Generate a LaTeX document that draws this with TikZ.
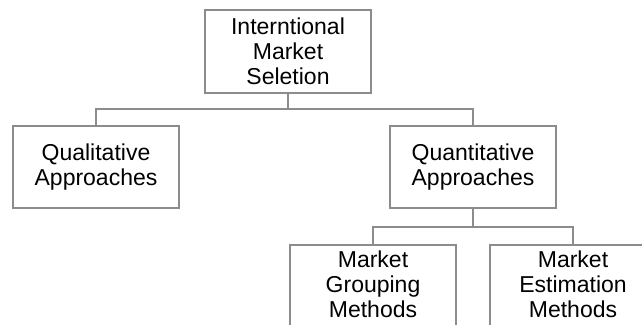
\documentclass[tikz,border=0pt]{standalone}
\usepackage{fontspec}
\setmainfont{Liberation Sans}
\newcommand{\deepline}{\rule[-10pt]{0pt}{10pt}}
\tikzset{
  box/.style={draw=gray!90, line width=1pt, align=center, outer sep=0pt,
    minimum width=83pt, font=\fontsize{11.5}{12.5}\selectfont},
  link/.style={draw=gray!90, line width=1.2pt},
}
\begin{document}
\begin{tikzpicture}[x=0.5pt, y=-0.5pt]
        \clip (0,0) rectangle (642,325);
        \node[box, minimum height=41.5pt] (market) at (288,51.5) {Interntional\\Market\\Seletion};
        \node[box, minimum height=41pt] (quali) at (96,167) {Qualitative\\Approaches};
        \node[box, minimum height=41pt] (quanti) at (473,167) {Quantitative\\Approaches};
        \node[box, anchor=north, inner ysep=3pt] (grouping) at (373,245) {Market\\Grouping\\Methods\deepline};
        \node[box, anchor=north, inner ysep=3pt] (estimation) at (573,245) {Market\\Estimation\\Methods\deepline};
        % tree links
        \draw[link] (market.south) -- ++(0,16) -| (quali.north);
        \draw[link] (market.south) -- ++(0,16) -| (quanti.north);
        \draw[link] (quanti.south) -- ++(0,19) -| (grouping.north);
        \draw[link] (quanti.south) -- ++(0,19) -| (estimation.north);
    \end{tikzpicture}
\end{document}
